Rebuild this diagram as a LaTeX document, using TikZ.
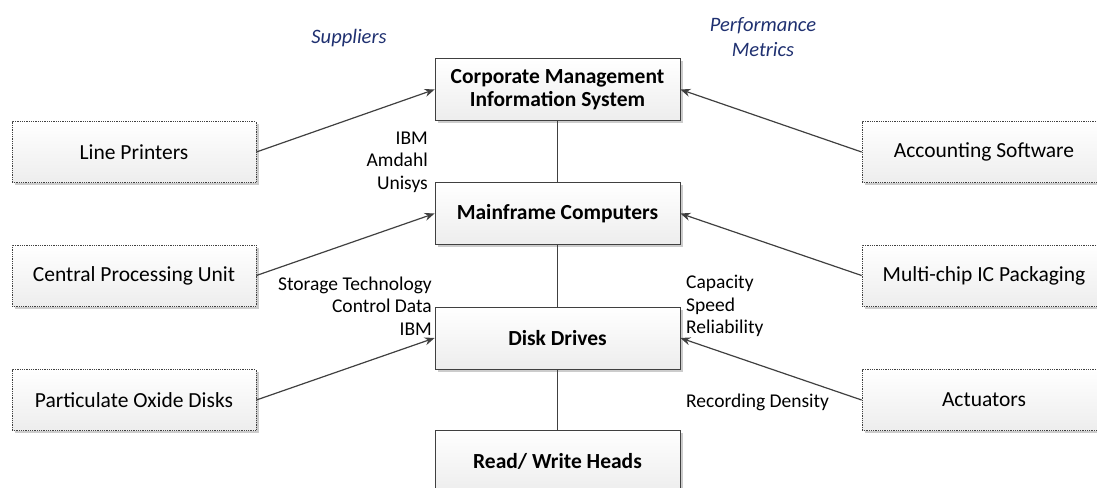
\documentclass[tikz,border=0pt]{standalone}
\usepackage{fontspec}
\setmainfont{Carlito}
\usetikzlibrary{arrows.meta,shadows}
\definecolor{edge}{HTML}{404040}
\definecolor{lbl}{HTML}{1F3070}
\tikzset{
  box/.style={draw=edge, line width=0.8pt, top color=white, bottom color=black!7,
    minimum width=245pt, minimum height=62pt, align=center, font=\fontsize{21.5}{23}\selectfont,
    drop shadow={shadow xshift=2.5pt, shadow yshift=-2.5pt, fill=black!25, opacity=0.8}},
  mainbox/.style={box, font=\fontsize{21.5}{23}\selectfont\bfseries},
  sidebox/.style={box, densely dotted, minimum width=244pt, minimum height=61pt},
  link/.style={draw=edge, line width=1.2pt, -{Stealth[length=10pt,width=8pt]}},
  plain/.style={draw=edge, line width=1.2pt},
  note/.style={font=\fontsize{19.5}{22.5}\selectfont, inner sep=0pt},
  head/.style={font=\fontsize{20.5}{25}\selectfont\itshape, text=lbl, align=center, inner sep=0pt}
}
\begin{document}
\begin{tikzpicture}[x=1pt,y=-1pt]
\useasboundingbox (0,0) rectangle (1097,487);
\clip (0,0) rectangle (1097,487);
% central chain
\node[mainbox] (cmis) at (557.5,89.5) {Corporate Management\\Information System};
\node[mainbox] (main) at (557.5,213.5) {Mainframe Computers};
\node[mainbox] (disk) at (557.5,338) {Disk Drives};
\node[mainbox] (head) at (557.5,461) {Read/ Write Heads};
% side components
\node[sidebox] (lp)  at (134,152) {Line Printers};
\node[sidebox] (cpu) at (134,275.5) {Central Processing Unit};
\node[sidebox] (pod) at (134,400) {Particulate Oxide Disks};
\node[sidebox] (acc) at (984,152) {Accounting Software};
\node[sidebox] (mcp) at (984,275.5) {Multi-chip IC Packaging};
\node[sidebox] (act) at (984,400) {Actuators};
% connectors
\draw[plain] (cmis) -- (main);
\draw[plain] (main) -- (disk);
\draw[plain] (disk) -- (head);
\draw[link] (lp.east)  -- (cmis.west);
\draw[link] (cpu.east) -- (main.west);
\draw[link] (pod.east) -- (disk.west);
\draw[link] (acc.west) -- (cmis.east);
\draw[link] (mcp.west) -- (main.east);
\draw[link] (act.west) -- (disk.east);
% headings
\node[head] (sup) at (349,38) {Suppliers};
\node[head] (perf) at (763,37) {Performance\\Metrics};
% annotations
\node[note, anchor=east, align=right] (vend1) at (428,162) {IBM\\Amdahl\\Unisys};
\node[note, anchor=east, align=right] (vend2) at (432,306) {Storage Technology\\Control Data\\IBM};
\node[note, anchor=west, align=left] (metr) at (686,306) {Capacity\\Speed\\Reliability};
\node[note, anchor=west] (dens) at (686,402) {Recording Density};
\end{tikzpicture}
\end{document}
